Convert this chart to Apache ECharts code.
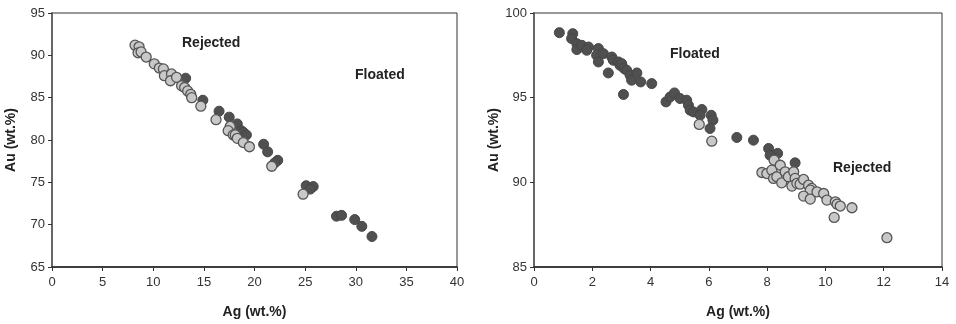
<!DOCTYPE html>
<html>
<head>
<meta charset="utf-8">
<script src="https://cdn.jsdelivr.net/npm/echarts@6/dist/echarts.min.js"></script>
<style>
  html, body { margin: 0; padding: 0; background: #fff; }
  #chart { width: 956px; height: 324px; }
</style>
</head>
<body>
<div id="chart"></div>
<script>
// left panel: Ag vs Au, wt.%
const leftFloated = [
  [13.2, 87.3], [14.9, 84.7], [16.5, 83.4], [17.5, 82.7], [18.3, 81.9],
  [18.7, 81.1], [18.9, 80.9], [19.2, 80.6], [20.9, 79.5], [21.3, 78.6],
  [22.3, 77.6], [22.0, 77.3], [25.1, 74.6], [25.8, 74.5], [25.5, 74.2],
  [28.1, 71.0], [28.6, 71.1], [29.9, 70.6], [30.6, 69.8], [31.6, 68.6]
];
const leftRejected = [
  [8.2, 91.2], [8.6, 91.0], [8.5, 90.3], [8.8, 90.4], [9.3, 89.8],
  [10.1, 89.0], [10.6, 88.5], [11.0, 88.4], [11.1, 87.6], [11.8, 87.8],
  [11.7, 87.0], [12.3, 87.4], [12.8, 86.4], [13.1, 86.2], [13.4, 85.8],
  [13.7, 85.4], [13.8, 85.0], [14.7, 84.0], [16.2, 82.4], [17.6, 81.6],
  [17.4, 81.1], [17.9, 80.6], [18.1, 80.6], [18.3, 80.2], [18.9, 79.7],
  [19.5, 79.2], [21.7, 76.9], [24.8, 73.6]
];

// right panel
const rightFloated = [
  [0.87, 98.84], [1.33, 98.78], [1.29, 98.49], [1.47, 98.19], [1.47, 97.84],
  [1.64, 98.09], [1.87, 97.99], [1.81, 97.80], [2.21, 97.90], [2.15, 97.50],
  [2.21, 97.11], [2.38, 97.60], [2.55, 96.46], [2.67, 97.40], [2.72, 97.21],
  [2.90, 97.11], [2.95, 96.91], [3.01, 97.01], [3.09, 96.72], [3.07, 95.19],
  [3.18, 96.62], [3.30, 96.32], [3.35, 96.03], [3.53, 96.46], [3.66, 95.93],
  [4.04, 95.83], [4.53, 94.75], [4.67, 95.04], [4.82, 95.28], [5.01, 94.95],
  [5.24, 94.85], [5.30, 94.55], [5.36, 94.26], [5.47, 94.16], [5.76, 94.30],
  [5.70, 93.96], [6.08, 93.96], [6.14, 93.67], [6.04, 93.18], [6.96, 92.65],
  [7.53, 92.49], [8.05, 92.00], [8.36, 91.71], [8.10, 91.60], [8.96, 91.15]
];
const rightRejected = [
  [5.67, 93.42], [6.10, 92.43], [7.82, 90.58], [7.99, 90.52], [8.24, 91.31],
  [8.16, 90.72], [8.22, 90.23], [8.45, 91.01], [8.33, 90.33], [8.50, 89.97],
  [8.62, 90.62], [8.73, 90.33], [8.91, 90.62], [8.96, 90.23], [8.85, 89.78],
  [9.02, 89.94], [9.13, 89.89], [9.25, 90.17], [9.42, 89.83], [9.53, 89.64],
  [9.48, 89.54], [9.25, 89.19], [9.48, 89.01], [9.71, 89.44], [9.94, 89.34],
  [10.05, 88.95], [10.34, 88.85], [10.40, 88.71], [10.51, 88.60], [10.91, 88.50],
  [10.30, 87.93], [12.11, 86.73]
];

const labelFont = 'Liberation Sans, Arial, sans-serif';
const darkFill = '#505050';
const lightFill = '#c8c8c8';

const axisCommon = {
  axisLine: { show: true, onZero: false, lineStyle: { color: '#555', width: 1.5 } },
  axisTick: { show: true, inside: false, length: 4, lineStyle: { color: '#333' } },
  axisLabel: { color: '#333', fontSize: 13, fontFamily: labelFont },
  splitLine: { show: false },
  nameTextStyle: { color: '#222', fontSize: 14, fontWeight: 'bold', fontFamily: labelFont },
};

function xAxisOf(grid, max, step) {
  return Object.assign({}, axisCommon, {
    gridIndex: grid, type: 'value', min: 0, max: max, interval: step,
    name: 'Ag (wt.%)', nameLocation: 'middle', nameGap: 38,
    axisLine: { show: true, onZero: false, lineStyle: { color: '#222', width: 1.5 } },
    axisLabel: Object.assign({}, axisCommon.axisLabel, { margin: 9 }),
  });
}

function yAxisOf(grid, min, max, gap) {
  return Object.assign({}, axisCommon, {
    gridIndex: grid, type: 'value', min: min, max: max, interval: 5,
    name: 'Au (wt.%)', nameLocation: 'middle', nameGap: gap,
    axisLine: { show: true, onZero: false, lineStyle: { color: '#666', width: 2 } },
    axisLabel: Object.assign({}, axisCommon.axisLabel, { margin: 7 }),
  });
}

function scatterOf(idx, data, light) {
  return {
    type: 'scatter', xAxisIndex: idx, yAxisIndex: idx, data: data, symbolSize: 10,
    itemStyle: light
      ? { color: lightFill, borderColor: '#555', borderWidth: 1.3, opacity: 1 }
      : { color: darkFill, borderColor: '#474747', borderWidth: 1, opacity: 1 },
    emphasis: { disabled: true },
  };
}

const chart = echarts.init(document.getElementById('chart'), null, { renderer: 'canvas' });

chart.setOption({
  animation: false,
  backgroundColor: '#fff',
  grid: [
    { left: 52, right: 499, top: 13, bottom: 56, show: true, borderColor: '#333', borderWidth: 1 },
    { left: 534, right: 14, top: 13, bottom: 57, show: true, borderColor: '#333', borderWidth: 1 },
  ],
  xAxis: [xAxisOf(0, 40, 5), xAxisOf(1, 14, 2)],
  yAxis: [yAxisOf(0, 65, 95, 34), yAxisOf(1, 85, 100, 32)],
  series: [
    scatterOf(0, leftFloated, false),
    scatterOf(0, leftRejected, true),
    scatterOf(1, rightFloated, false),
    scatterOf(1, rightRejected, true),
  ],
  graphic: [
    { type: 'text', left: 182, top: 36, style: { text: 'Rejected', font: 'bold 14px ' + labelFont, fill: '#222' } },
    { type: 'text', left: 355, top: 68, style: { text: 'Floated', font: 'bold 14px ' + labelFont, fill: '#222' } },
    { type: 'text', left: 670, top: 47, style: { text: 'Floated', font: 'bold 14px ' + labelFont, fill: '#222' } },
    { type: 'text', left: 833, top: 161, style: { text: 'Rejected', font: 'bold 14px ' + labelFont, fill: '#222' } },
  ],
});
</script>
</body>
</html>
